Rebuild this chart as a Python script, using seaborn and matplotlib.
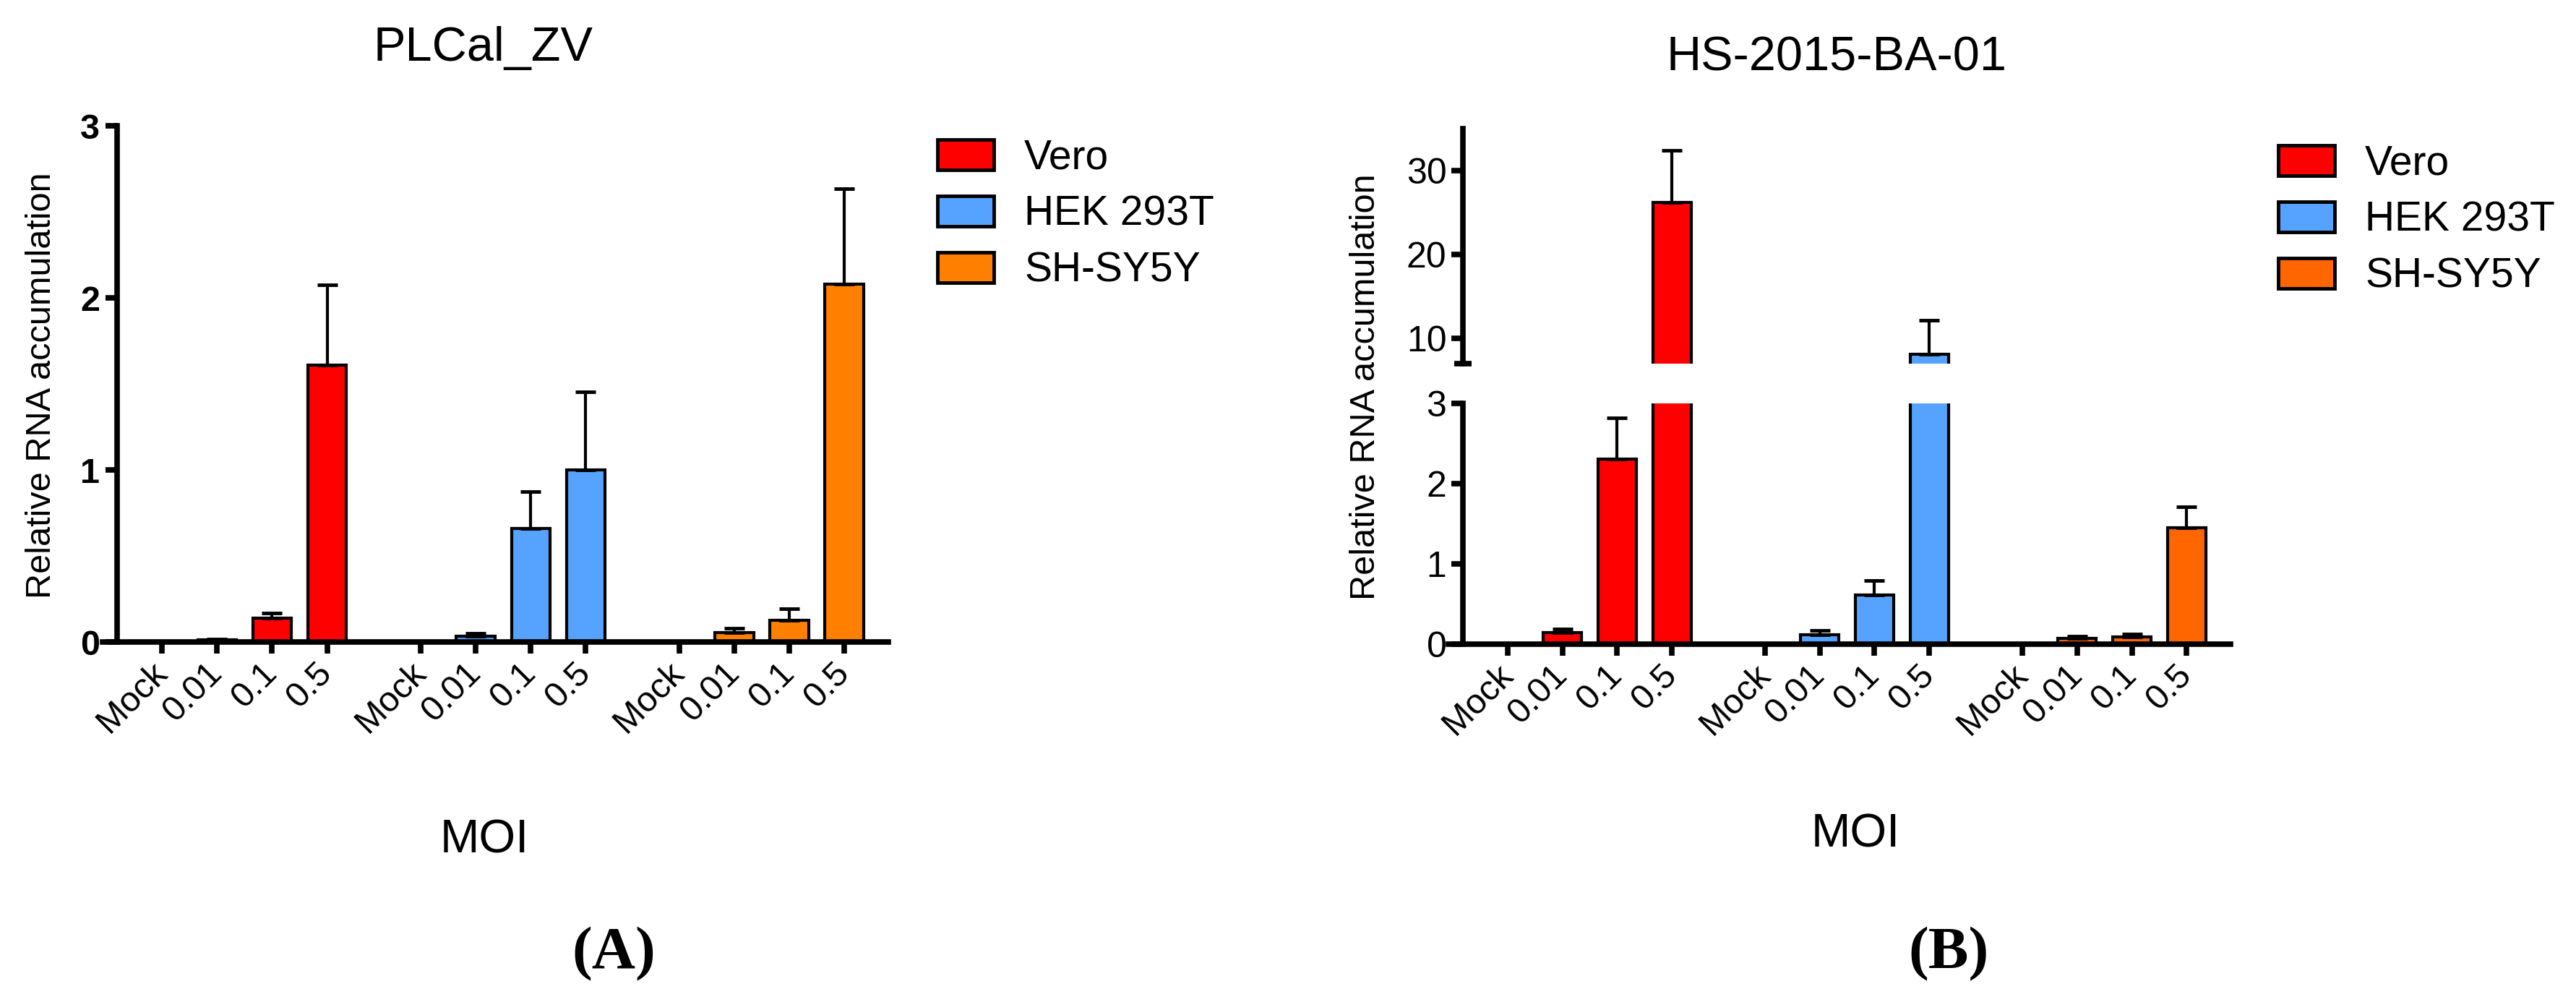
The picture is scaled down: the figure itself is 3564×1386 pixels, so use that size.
import numpy as np
import pandas as pd
import matplotlib
matplotlib.use("Agg")
import matplotlib.pyplot as plt
from matplotlib.patches import Patch
import seaborn as sns

# -----------------------------
# Data
# -----------------------------
cells = ["Vero", "HEK 293T", "SH-SY5Y"]
moi_labels = ["Mock", "0.01", "0.1", "0.5"]

# Panel A: PLCal_ZV
a_vero = [0.0, 0.013, 0.14, 1.61]
a_vero_err = [0.0, 0.004, 0.027, 0.465]
a_hek = [0.0, 0.032, 0.66, 1.00]
a_hek_err = [0.0, 0.018, 0.215, 0.455]
a_sh = [0.0, 0.054, 0.127, 2.08]
a_sh_err = [0.0, 0.024, 0.067, 0.555]

# Panel B: HS-2015-BA-01
b_vero = [0.0, 0.144, 2.31, 26.2]
b_vero_err = [0.0, 0.041, 0.51, 6.2]
b_hek = [0.0, 0.12, 0.617, 8.1]
b_hek_err = [0.0, 0.047, 0.173, 4.1]
b_sh = [0.0, 0.075, 0.087, 1.45]
b_sh_err = [0.0, 0.025, 0.043, 0.26]

colors_a = {"Vero": "#FF0000", "HEK 293T": "#56A3FF", "SH-SY5Y": "#FF8000"}
colors_b = {"Vero": "#FF0000", "HEK 293T": "#56A3FF", "SH-SY5Y": "#FF6600"}

GROUP_STRIDE = 4.7
XLIM = (-1.08, 13.2)
SPINE_X = -0.82
TICK_PX = 16
W, H = 3564, 1386


def make_frame(vals, errs):
    rows = []
    for g, cell in enumerate(cells):
        for i, lab in enumerate(moi_labels):
            rows.append({"pos": g * GROUP_STRIDE + i, "moi": lab, "cell": cell,
                         "value": vals[g][i], "err": errs[g][i]})
    return pd.DataFrame(rows)


df_a = make_frame([a_vero, a_hek, a_sh], [a_vero_err, a_hek_err, a_sh_err])
df_b = make_frame([b_vero, b_hek, b_sh], [b_vero_err, b_hek_err, b_sh_err])

sns.set_theme(style="white")
plt.rcParams["font.family"] = ["Liberation Sans", "DejaVu Sans"]
plt.rcParams.update({
    "axes.linewidth": 5.5,
    "axes.edgecolor": "black",
    "axes.axisbelow": False,
    "text.color": "black",
    "axes.labelcolor": "black",
    "xtick.color": "black",
    "ytick.color": "black",
})

fig = plt.figure(figsize=(W / 100, H / 100), dpi=100)


def fig_rect(x0, y0, x1, y1):
    # pixel box (top-left origin) -> figure fraction rect
    return [x0 / W, 1 - y1 / H, (x1 - x0) / W, (y1 - y0) / H]


def draw_bars(ax, df, palette):
    sns.barplot(data=df, x="pos", y="value", hue="cell", palette=palette,
                native_scale=True, dodge=False, width=0.7, errorbar=None,
                edgecolor="black", linewidth=3, saturation=1, legend=False, ax=ax)
    ax.errorbar(df["pos"], df["value"], yerr=[np.zeros(len(df)), df["err"]],
                fmt="none", ecolor="black", elinewidth=3, capsize=10, capthick=3.5,
                zorder=1)


def style_axis(ax):
    ax.set_xlim(*XLIM)
    sns.despine(ax=ax)
    ax.spines["left"].set_position(("data", SPINE_X))
    # built-in tick marks are replaced by explicit marks below
    ax.tick_params(axis="y", which="both", length=0, pad=17, labelsize=35)


def set_xticks(ax, df):
    ax.set_xticks(df["pos"], labels=df["moi"])
    ax.tick_params(axis="x", which="major", length=0, pad=26, labelsize=35)
    for t in ax.get_xticklabels():
        t.set_rotation(45)
        t.set_rotation_mode("anchor")
        t.set_ha("right")
        t.set_va("center")


def tick_marks(ax, xs=None, ys=None, inout=None):
    # Prism-style tick marks drawn at the axis tick positions
    box = ax.get_position()
    ax_h = box.height * H
    ax_w = box.width * W
    dx = TICK_PX / ax_w * (XLIM[1] - XLIM[0])
    kw = dict(colors="black", linewidth=5.5, clip_on=False, capstyle="butt", zorder=5)
    if xs is not None:
        ax.vlines(xs, -TICK_PX / ax_h, 0, transform=ax.get_xaxis_transform(), **kw)
    if ys is not None:
        ax.hlines(ys, SPINE_X - dx, SPINE_X, **kw)
    if inout is not None:
        ax.hlines(inout, SPINE_X - dx * 0.75, SPINE_X + dx * 0.75, **kw)


# ---- Panel A ----
ax_a = fig.add_axes(fig_rect(142, 174, 1229, 888))
draw_bars(ax_a, df_a, colors_a)
style_axis(ax_a)
ax_a.set_ylim(0, 3)
ax_a.set_yticks([0, 1, 2, 3])
for t in ax_a.get_yticklabels():
    t.set_fontweight("bold")
set_xticks(ax_a, df_a)
tick_marks(ax_a, xs=df_a["pos"], ys=ax_a.get_yticks())
ax_a.set_xlabel("MOI", fontsize=47, va="center")
ax_a.xaxis.set_label_coords(670 / W, 1 - 1163 / H, transform=fig.transFigure)
ax_a.set_ylabel("Relative RNA accumulation", fontsize=35, va="center")
ax_a.yaxis.set_label_coords(58 / W, 1 - 533 / H, transform=fig.transFigure)
ax_a.set_xlim(*XLIM)
ax_a.set_ylim(0, 3)
fig.text(669 / W, 1 - 67 / H, "PLCal_ZV", fontsize=48, ha="center", va="center")

# ---- Panel B (broken y axis) ----
ax_lo = fig.add_axes(fig_rect(2004, 558, 3086, 891))
ax_hi = fig.add_axes(fig_rect(2004, 178, 3086, 503))
for ax in (ax_lo, ax_hi):
    draw_bars(ax, df_b, colors_b)
    style_axis(ax)
    ax.set_ylabel("")
    ax.set_xlabel("")
    ax.tick_params(axis="y", labelsize=36, pad=16)
ax_lo.set_ylim(0, 3)
ax_lo.set_yticks([0, 1, 2, 3])
ax_hi.set_ylim(7, 35)
ax_hi.set_yticks([10, 20, 30])
ax_hi.spines["bottom"].set_visible(False)
ax_hi.tick_params(axis="x", bottom=False, labelbottom=False, length=0)
set_xticks(ax_lo, df_b)
tick_marks(ax_lo, xs=df_b["pos"], ys=ax_lo.get_yticks())
tick_marks(ax_hi, ys=ax_hi.get_yticks(), inout=[7])
for ax, lim in ((ax_lo, (0, 3)), (ax_hi, (7, 35))):
    ax.set_xlim(*XLIM)
    ax.set_ylim(*lim)
ax_lo.set_xlabel("MOI", fontsize=47, va="center")
ax_lo.xaxis.set_label_coords(2567 / W, 1 - 1155 / H, transform=fig.transFigure)
ax_lo.set_ylabel("Relative RNA accumulation", fontsize=35, va="center")
ax_lo.yaxis.set_label_coords(1890 / W, 1 - 535 / H, transform=fig.transFigure)
fig.text(2541 / W, 1 - 80 / H, "HS-2015-BA-01", fontsize=48, ha="center", va="center")

# ---- Legends ----
def add_legend(palette, x, y):
    handles = [Patch(facecolor=palette[c], edgecolor="black", linewidth=3.5, label=c)
               for c in cells]
    fig.legend(handles=handles, loc="upper left", bbox_to_anchor=(x / W, 1 - y / H),
               bbox_transform=fig.transFigure, frameon=False, fontsize=41,
               handlelength=1.37, handleheight=0.74, handletextpad=0.74,
               labelspacing=0.42, borderpad=0, borderaxespad=0)


add_legend(colors_a, 1297, 192)
add_legend(colors_b, 3152, 200)

# ---- Panel letters ----
fig.text(849 / W, 1 - 1320 / H, "(A)", fontsize=60, fontweight="bold",
         family=["Liberation Serif", "DejaVu Serif"], ha="center", va="center")
fig.text(2696 / W, 1 - 1320 / H, "(B)", fontsize=60, fontweight="bold",
         family=["Liberation Serif", "DejaVu Serif"], ha="center", va="center")

fig.savefig("out.png", dpi=100, facecolor="white")
